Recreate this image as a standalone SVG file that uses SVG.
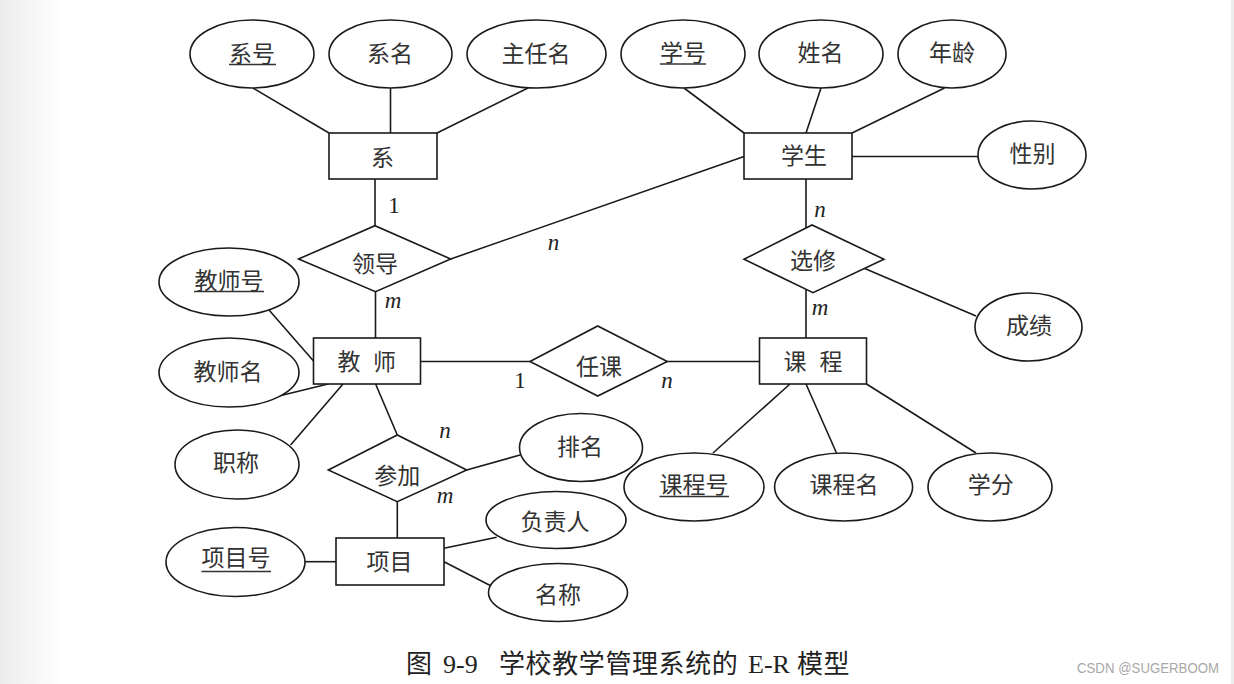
<svg xmlns="http://www.w3.org/2000/svg" width="1234" height="684" viewBox="0 0 1234 684">
<defs>
<linearGradient id="lg" x1="0" y1="0" x2="1" y2="0">
<stop offset="0" stop-color="#ececec"/>
<stop offset="1" stop-color="#ffffff"/>
</linearGradient>
<style>
.s{fill:#fff;stroke:#1a1a1a;stroke-width:1.6}
.c{stroke:#1a1a1a;stroke-width:1.6;fill:none}
.u{stroke:#333;stroke-width:1.4}
.t{font-family:"Noto Sans CJK SC","Noto Sans",sans-serif;font-size:23px;fill:#333;text-anchor:middle}
.l{font-family:"Liberation Serif","Times New Roman",serif;font-size:23px;fill:#222;text-anchor:middle}
.i{font-style:italic}
.cap{font-family:"Liberation Serif","Noto Sans CJK SC",serif;font-size:26px;fill:#222}
.cj{font-family:"Noto Sans CJK SC",sans-serif;font-size:26px;letter-spacing:0.6px}
.wm{font-family:"Liberation Sans","Noto Sans",sans-serif;font-size:14px;fill:#a8a8a8}
</style>
</defs>
<rect x="0" y="0" width="1234" height="684" fill="#fff"/>
<rect x="0" y="0" width="62" height="684" fill="url(#lg)"/>
<rect x="1231" y="0" width="3" height="684" fill="#ededed"/>

<g id="connectors">
<line class="c" x1="253" y1="88" x2="329" y2="133"/>
<line class="c" x1="390.5" y1="88" x2="390.5" y2="133"/>
<line class="c" x1="528" y1="88" x2="437" y2="133"/>
<line class="c" x1="684" y1="88" x2="744" y2="133"/>
<line class="c" x1="821" y1="88" x2="806" y2="133"/>
<line class="c" x1="944.5" y1="88" x2="852" y2="133"/>
<line class="c" x1="852" y1="156.5" x2="978" y2="156.5"/>
<line class="c" x1="375" y1="179" x2="375" y2="225.7"/>
<line class="c" x1="375.5" y1="291.7" x2="375.5" y2="338"/>
<line class="c" x1="450.7" y1="259" x2="744" y2="156.5"/>
<line class="c" x1="806" y1="179" x2="806" y2="228.3"/>
<line class="c" x1="806" y1="289.4" x2="806" y2="338"/>
<line class="c" x1="863" y1="267.7" x2="976" y2="316"/>
<line class="c" x1="420.5" y1="361.5" x2="530" y2="361.5"/>
<line class="c" x1="667.3" y1="361.5" x2="759.5" y2="361.5"/>
<line class="c" x1="269" y1="310" x2="313.5" y2="361"/>
<line class="c" x1="279" y1="396" x2="328" y2="384"/>
<line class="c" x1="290.6" y1="445" x2="343" y2="384"/>
<line class="c" x1="375.6" y1="384" x2="397.3" y2="435"/>
<line class="c" x1="466.7" y1="470" x2="520" y2="455"/>
<line class="c" x1="397.3" y1="501.7" x2="397.3" y2="538"/>
<line class="c" x1="305" y1="561.7" x2="336" y2="561.7"/>
<line class="c" x1="444" y1="548.3" x2="496.7" y2="537.3"/>
<line class="c" x1="444" y1="561.7" x2="490.7" y2="585.7"/>
<line class="c" x1="790" y1="384" x2="713" y2="453"/>
<line class="c" x1="806" y1="384" x2="836.5" y2="453"/>
<line class="c" x1="866.5" y1="384" x2="976" y2="453"/>
<text class="l" x="394" y="212.5">1</text>
<text class="l i" x="553.6" y="250">n</text>
<text class="l i" x="393" y="308">m</text>
<text class="l i" x="820" y="217">n</text>
<text class="l i" x="820" y="315">m</text>
<text class="l" x="520" y="388">1</text>
<text class="l i" x="667" y="388">n</text>
<text class="l i" x="445" y="438">n</text>
<text class="l i" x="445" y="503">m</text>
</g>

<g id="dept"><rect class="s" x="329" y="133" width="108" height="46"/><text class="t" x="382.5" y="165.5">系</text></g>
<g id="student"><rect class="s" x="744" y="133" width="108" height="46"/><text class="t" x="804" y="163.5">学生</text></g>
<g id="teacher"><rect class="s" x="313.5" y="338" width="107" height="46"/><text class="t" x="349" y="369.5">教</text><text class="t" x="384.5" y="369.5">师</text></g>
<g id="course"><rect class="s" x="759.5" y="338" width="107" height="46"/><text class="t" x="795" y="369.5">课</text><text class="t" x="831" y="369.5">程</text></g>
<g id="project"><rect class="s" x="336" y="538" width="108" height="47"/><text class="t" x="389.5" y="570">项目</text></g>

<g id="lead"><polygon class="s" points="298.5,259 375,225.7 450.7,259 375.5,291.7"/><text class="t" x="375" y="271.5">领导</text></g>
<g id="elective"><polygon class="s" points="744,259.3 812,225 884,259.3 813,292.7"/><text class="t" x="813" y="268.5">选修</text></g>
<g id="teach"><polygon class="s" points="530,361.5 597.7,326 667.3,361.5 597.7,396"/><text class="t" x="599" y="374.5">任课</text></g>
<g id="join"><polygon class="s" points="328.3,470 397.3,435 466.7,470 397.3,501.7"/><text class="t" x="397.3" y="483.5">参加</text></g>

<g id="a-deptno"><ellipse class="s" cx="252" cy="54" rx="62" ry="34"/><text class="t" x="252" y="61.5">系号</text><line class="u" x1="229" y1="64.5" x2="276" y2="64.5"/></g>
<g id="a-deptname"><ellipse class="s" cx="390.5" cy="54" rx="61.5" ry="34"/><text class="t" x="390" y="61.5">系名</text></g>
<g id="a-head"><ellipse class="s" cx="536.5" cy="54" rx="69.5" ry="34"/><text class="t" x="536" y="61.5">主任名</text></g>
<g id="a-sno"><ellipse class="s" cx="683" cy="54" rx="62" ry="34"/><text class="t" x="683" y="61">学号</text><line class="u" x1="660" y1="64" x2="706" y2="64"/></g>
<g id="a-sname"><ellipse class="s" cx="821" cy="54" rx="62" ry="34"/><text class="t" x="820.5" y="60.5">姓名</text></g>
<g id="a-age"><ellipse class="s" cx="952" cy="54" rx="54" ry="34"/><text class="t" x="952" y="60.5">年龄</text></g>
<g id="a-sex"><ellipse class="s" cx="1032" cy="155" rx="54" ry="34"/><text class="t" x="1032.5" y="161.5">性别</text></g>
<g id="a-score"><ellipse class="s" cx="1028.5" cy="327" rx="53.5" ry="34"/><text class="t" x="1029" y="333.5">成绩</text></g>
<g id="a-tno"><ellipse class="s" cx="229" cy="282" rx="70" ry="34"/><text class="t" x="229" y="288.5">教师号</text><line class="u" x1="194" y1="291.5" x2="264" y2="291.5"/></g>
<g id="a-tname"><ellipse class="s" cx="229" cy="372.5" rx="70" ry="34.5"/><text class="t" x="228" y="379.5">教师名</text></g>
<g id="a-title"><ellipse class="s" cx="237" cy="464.5" rx="62" ry="34.5"/><text class="t" x="236" y="470.5">职称</text></g>
<g id="a-rank"><ellipse class="s" cx="581" cy="447.5" rx="61.5" ry="34"/><text class="t" x="580" y="455">排名</text></g>
<g id="a-leader"><ellipse class="s" cx="556" cy="520" rx="70" ry="28.5"/><text class="t" x="555" y="529.5">负责人</text></g>
<g id="a-pname"><ellipse class="s" cx="558" cy="592.5" rx="69.5" ry="29"/><text class="t" x="558" y="603">名称</text></g>
<g id="a-pno"><ellipse class="s" cx="235.5" cy="562" rx="69.5" ry="34.5"/><text class="t" x="236" y="565.5">项目号</text><line class="u" x1="201.5" y1="571.5" x2="271" y2="571.5"/></g>
<g id="a-cno"><ellipse class="s" cx="694" cy="487" rx="70" ry="34"/><text class="t" x="694" y="492.5">课程号</text><line class="u" x1="659.5" y1="496.5" x2="729" y2="496.5"/></g>
<g id="a-cname"><ellipse class="s" cx="843.6" cy="487" rx="69" ry="34"/><text class="t" x="844" y="492.5">课程名</text></g>
<g id="a-credit"><ellipse class="s" cx="990" cy="487" rx="62" ry="34"/><text class="t" x="990.7" y="492.5">学分</text></g>

<text class="cap" y="673"><tspan class="cj" x="406">图</tspan><tspan x="443">9-9</tspan><tspan class="cj" x="499">学校教学管理系统的</tspan><tspan x="748">E-R</tspan><tspan class="cj" x="797">模型</tspan></text>
<text class="wm" x="1077" y="673" textLength="142" lengthAdjust="spacingAndGlyphs">CSDN @SUGERBOOM</text>
</svg>
